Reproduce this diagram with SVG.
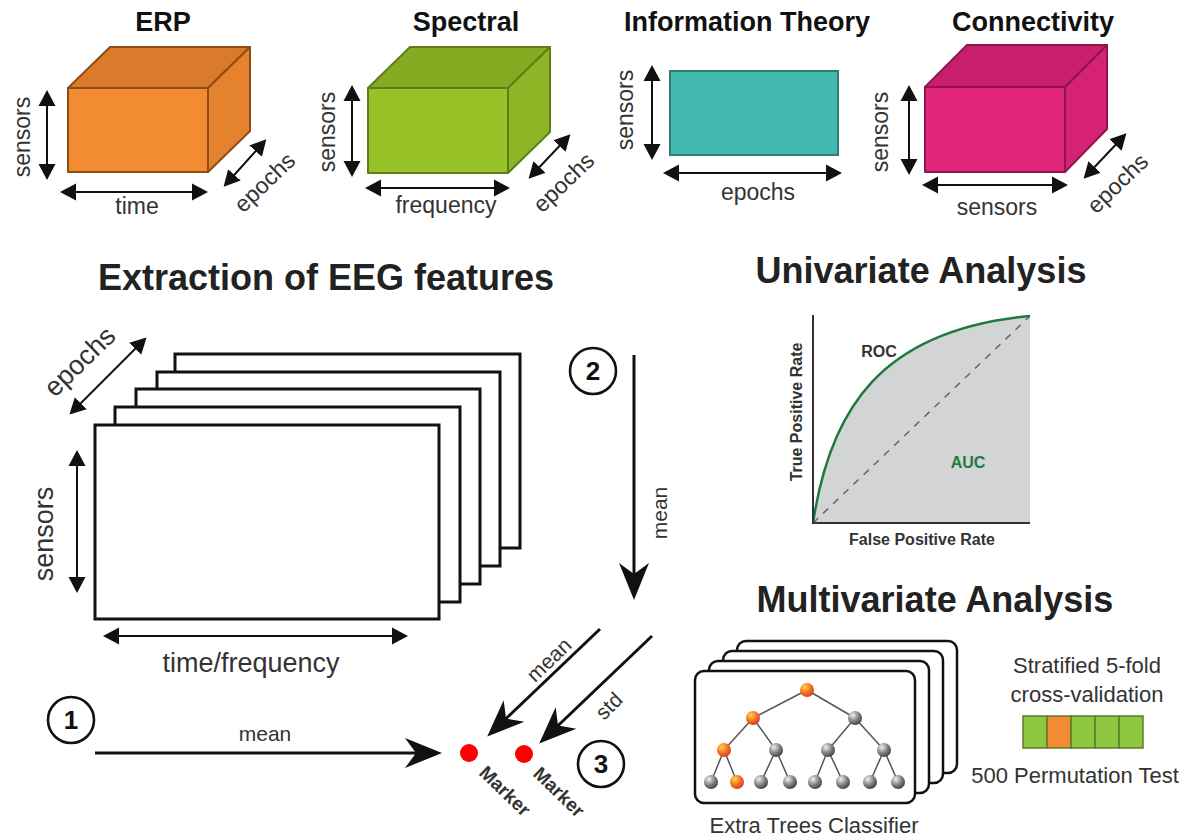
<svg xmlns="http://www.w3.org/2000/svg" width="1188" height="839" viewBox="0 0 1188 839">
<style>
text{font-family:"Liberation Sans",Arial,sans-serif;fill:#222}
.t{font-weight:bold;font-size:27px;fill:#111;text-anchor:middle}
.h{font-weight:bold;font-size:36px;fill:#222;text-anchor:middle}
.l{font-size:23px;text-anchor:middle;fill:#333}
.L{font-size:27px;text-anchor:middle;fill:#333}
.r{font-weight:bold;font-size:16px;text-anchor:middle;fill:#333}
.m{font-size:21px;text-anchor:middle;fill:#333}
.mv{font-size:22px;text-anchor:middle;fill:#333}
.n{font-weight:bold;font-size:26px;text-anchor:middle;fill:#111}
.mk{font-weight:bold;font-size:19px;text-anchor:start;fill:#333}
.da{stroke:#111;stroke-width:2;fill:none;marker-start:url(#sa);marker-end:url(#sa)}
.ba{stroke:#111;stroke-width:3;fill:none;marker-end:url(#ba)}
.circ{fill:#fff;stroke:#111;stroke-width:2.6}
.card{fill:#fff;stroke:#111;stroke-width:2.5}
.frame{fill:#fff;stroke:#111;stroke-width:3}
.edge{stroke:#555;stroke-width:1.5}
</style>
<defs>
<marker id="sa" viewBox="-16 -9 17 18" refX="-5" refY="0" markerWidth="17" markerHeight="18" markerUnits="userSpaceOnUse" orient="auto-start-reverse">
<path d="M0,0 L-16,-8.5 L-16,8.5 z" fill="#111"/>
</marker>
<marker id="ba" viewBox="-38 -16 39 32" refX="-8" refY="0" markerWidth="39" markerHeight="32" markerUnits="userSpaceOnUse" orient="auto">
<path d="M0,0 L-37,-15 L-26,0 L-37,15 z" fill="#111"/>
</marker>
<radialGradient id="go" cx="0.35" cy="0.3" r="0.75">
<stop offset="0" stop-color="#FFD84A"/><stop offset="0.5" stop-color="#F5782A"/><stop offset="1" stop-color="#D93A1A"/>
</radialGradient>
<radialGradient id="gg" cx="0.35" cy="0.3" r="0.75">
<stop offset="0" stop-color="#F2F2F2"/><stop offset="0.5" stop-color="#8C8C8C"/><stop offset="1" stop-color="#3C3C3C"/>
</radialGradient>
</defs>

<!-- ERP -->
<g id="erp">
<text class="t" x="163" y="31">ERP</text>
<g stroke="#8E4C16" stroke-width="2" stroke-linejoin="round">
<polygon points="68,88 110,47 250,47 208,88" fill="#D97B2A"/>
<polygon points="208,88 250,47 250,131 208,172" fill="#E5822E"/>
<rect x="68" y="88" width="140" height="84" fill="#F28B31"/>
</g>
<line class="da" x1="47" y1="95" x2="47" y2="175"/>
<line class="da" x1="65" y1="192" x2="203" y2="192"/>
<line class="da" x1="227" y1="183" x2="263" y2="143"/>
<text class="l" transform="translate(30,137) rotate(-90)">sensors</text>
<text class="l" x="137" y="214">time</text>
<text class="l" transform="translate(270,188) rotate(-44)">epochs</text>
</g>

<!-- Spectral -->
<g id="spectral">
<text class="t" x="466" y="31">Spectral</text>
<g stroke="#5E7F17" stroke-width="2" stroke-linejoin="round">
<polygon points="368,88 410,47 550,47 508,88" fill="#85AB23"/>
<polygon points="508,88 550,47 550,132 508,173" fill="#8DB626"/>
<rect x="368" y="88" width="140" height="85" fill="#97C328"/>
</g>
<line class="da" x1="352" y1="90" x2="352" y2="172"/>
<line class="da" x1="370" y1="188" x2="505" y2="188"/>
<line class="da" x1="532" y1="175" x2="567" y2="138"/>
<text class="l" transform="translate(335,132) rotate(-90)">sensors</text>
<text class="l" x="446" y="213">frequency</text>
<text class="l" transform="translate(569,188) rotate(-44)">epochs</text>
</g>

<!-- Information Theory -->
<g id="info">
<text class="t" x="747" y="31">Information Theory</text>
<rect x="670" y="71" width="168" height="84" fill="#41B8B0" stroke="#2F7D75" stroke-width="2"/>
<line class="da" x1="652" y1="70" x2="652" y2="155"/>
<line class="da" x1="668" y1="173" x2="837" y2="173"/>
<text class="l" transform="translate(633,110) rotate(-90)">sensors</text>
<text class="l" x="758" y="200">epochs</text>
</g>

<!-- Connectivity -->
<g id="connectivity">
<text class="t" x="1033" y="31">Connectivity</text>
<g stroke="#8E1649" stroke-width="2" stroke-linejoin="round">
<polygon points="925,87 967,45 1107,45 1065,87" fill="#C91F6C"/>
<polygon points="1065,87 1107,45 1107,129 1065,172" fill="#D62274"/>
<rect x="925" y="87" width="140" height="85" fill="#E0257B"/>
</g>
<line class="da" x1="909" y1="90" x2="909" y2="170"/>
<line class="da" x1="927" y1="185" x2="1063" y2="185"/>
<line class="da" x1="1087" y1="175" x2="1123" y2="137"/>
<text class="l" transform="translate(888,132) rotate(-90)">sensors</text>
<text class="l" x="997" y="215">sensors</text>
<text class="l" transform="translate(1123,189) rotate(-44)">epochs</text>
</g>

<!-- Extraction -->
<g id="extraction">
<text class="h" x="326" y="290">Extraction of EEG features</text>
<rect class="frame" x="175" y="354" width="345" height="194"/>
<rect class="frame" x="157" y="372" width="343" height="194"/>
<rect class="frame" x="136" y="389" width="344" height="195"/>
<rect class="frame" x="115" y="407" width="345" height="195"/>
<rect class="frame" x="95" y="425" width="344" height="194"/>
<line class="da" x1="73" y1="411" x2="143" y2="341"/>
<line class="da" x1="77" y1="455" x2="77" y2="588"/>
<line class="da" x1="108" y1="636" x2="403" y2="636"/>
<text class="L" transform="translate(86,368) rotate(-44)">epochs</text>
<text class="L" transform="translate(53,534) rotate(-90)">sensors</text>
<text class="L" x="251" y="672">time/frequency</text>
</g>

<!-- step labels -->
<g id="step1"><circle class="circ" cx="71" cy="720" r="23"/><text class="n" x="71" y="729">1</text></g>
<g id="step2"><circle class="circ" cx="593" cy="371" r="23"/><text class="n" x="593" y="380">2</text></g>
<g id="step3"><circle class="circ" cx="601" cy="764" r="23"/><text class="n" x="601" y="773">3</text></g>

<!-- markers -->
<g id="marker1">
<circle cx="469" cy="753" r="9" fill="#FF0000"/>
<text class="mk" transform="translate(478,774) rotate(44)">Marker</text>
</g>
<g id="marker2">
<circle cx="524" cy="754" r="9" fill="#FF0000"/>
<text class="mk" transform="translate(532,775) rotate(44)">Marker</text>
</g>

<!-- connectors -->
<g id="connectors">
<line class="ba" x1="95" y1="753" x2="434" y2="753"/>
<line class="ba" x1="634" y1="355" x2="634" y2="592"/>
<line class="ba" x1="600" y1="629" x2="493" y2="731"/>
<line class="ba" x1="652" y1="636" x2="545" y2="738"/>
<text class="m" x="265" y="741">mean</text>
<text class="m" font-size="24" transform="translate(667,513) rotate(-90)">mean</text>
<text class="m" transform="translate(554,665) rotate(-44)">mean</text>
<text class="m" transform="translate(614,711) rotate(-45)">std</text>
</g>

<!-- Univariate -->
<g id="univariate">
<text class="h" x="921" y="283">Univariate Analysis</text>
<path d="M813,523 C830,410 880,330 1030,316 L1030,523 Z" fill="#D3D4D6"/>
<line x1="813" y1="523" x2="1030" y2="316" stroke="#666" stroke-width="1.5" stroke-dasharray="7 7"/>
<path d="M813,523 C830,410 880,330 1030,316" fill="none" stroke="#1F7A3F" stroke-width="2.5"/>
<line x1="813" y1="315" x2="813" y2="524" stroke="#333" stroke-width="2"/>
<line x1="812" y1="523" x2="1030" y2="523" stroke="#333" stroke-width="2"/>
<text class="r" x="879" y="357">ROC</text>
<text class="r" x="968" y="468" style="fill:#1F7A3F">AUC</text>
<text class="r" transform="translate(802,412) rotate(-90)">True Positive Rate</text>
<text class="r" x="922" y="545">False Positive Rate</text>
</g>

<!-- Multivariate -->
<g id="multivariate">
<text class="h" x="935" y="612">Multivariate Analysis</text>
<rect class="card" x="737" y="641" width="220" height="132" rx="9"/>
<rect class="card" x="723" y="651" width="220" height="132" rx="9"/>
<rect class="card" x="709" y="661" width="220" height="132" rx="9"/>
<rect class="card" x="695" y="671" width="220" height="132" rx="9"/>
<g id="tree">
<line class="edge" x1="807" y1="690" x2="753" y2="718"/>
<line class="edge" x1="807" y1="690" x2="855" y2="718"/>
<line class="edge" x1="753" y1="718" x2="724" y2="750"/>
<line class="edge" x1="753" y1="718" x2="776" y2="750"/>
<line class="edge" x1="855" y1="718" x2="828" y2="750"/>
<line class="edge" x1="855" y1="718" x2="884" y2="750"/>
<line class="edge" x1="724" y1="750" x2="711" y2="782"/>
<line class="edge" x1="724" y1="750" x2="737" y2="782"/>
<line class="edge" x1="776" y1="750" x2="761" y2="782"/>
<line class="edge" x1="776" y1="750" x2="790" y2="782"/>
<line class="edge" x1="828" y1="750" x2="815" y2="782"/>
<line class="edge" x1="828" y1="750" x2="843" y2="782"/>
<line class="edge" x1="884" y1="750" x2="870" y2="782"/>
<line class="edge" x1="884" y1="750" x2="898" y2="782"/>
<g fill="url(#go)">
<circle cx="807" cy="690" r="7"/><circle cx="753" cy="718" r="7"/><circle cx="724" cy="750" r="7"/><circle cx="737" cy="782" r="7"/>
</g>
<g fill="url(#gg)">
<circle cx="855" cy="718" r="7"/><circle cx="776" cy="750" r="7"/><circle cx="828" cy="750" r="7"/><circle cx="884" cy="750" r="7"/>
<circle cx="711" cy="782" r="7"/><circle cx="761" cy="782" r="7"/><circle cx="790" cy="782" r="7"/><circle cx="815" cy="782" r="7"/>
<circle cx="843" cy="782" r="7"/><circle cx="870" cy="782" r="7"/><circle cx="898" cy="782" r="7"/>
</g>
</g>
<text class="mv" x="814" y="833">Extra Trees Classifier</text>
<text class="mv" x="1087" y="673">Stratified 5-fold</text>
<text class="mv" x="1087" y="702">cross-validation</text>
<g stroke="#5B7B2B" stroke-width="1.5">
<rect x="1023" y="716" width="24" height="32" fill="#8DC63F"/>
<rect x="1047" y="716" width="24" height="32" fill="#F28B31"/>
<rect x="1071" y="716" width="24" height="32" fill="#8DC63F"/>
<rect x="1095" y="716" width="24" height="32" fill="#8DC63F"/>
<rect x="1119" y="716" width="24" height="32" fill="#8DC63F"/>
</g>
<text class="mv" x="1075" y="783">500 Permutation Test</text>
</g>
</svg>
